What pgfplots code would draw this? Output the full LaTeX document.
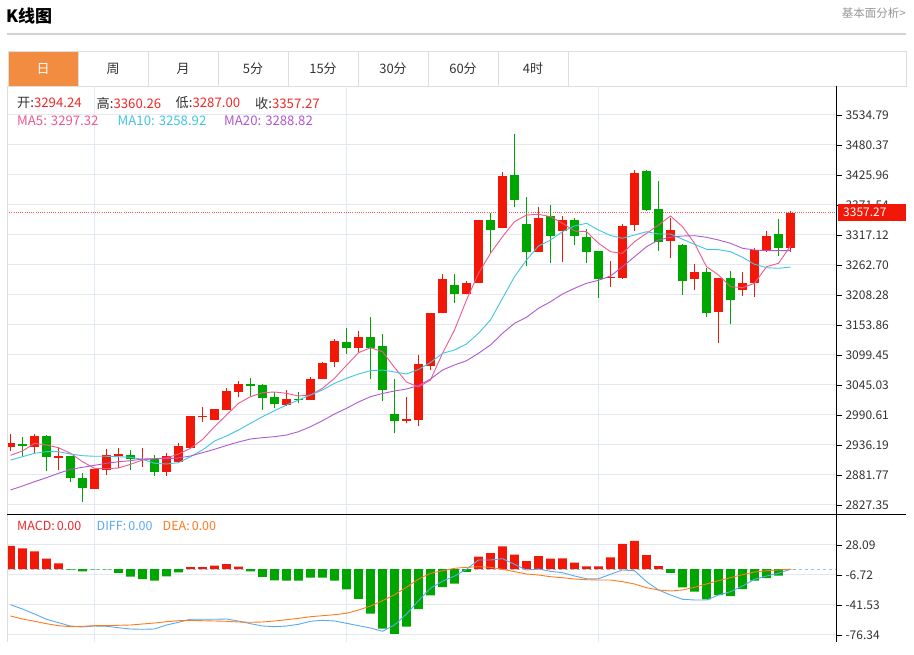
\documentclass[border=0pt]{standalone}
\usepackage{pgfplots}
\pgfplotsset{compat=1.18}
\usepackage{pgfplotstable}
\usepackage{fontspec}
\setmainfont{Noto Sans CJK SC}
\definecolor{cRed}{RGB}{242,24,8}
\definecolor{cGreen}{RGB}{0,166,0}
\definecolor{cMAa}{RGB}{238,90,142}
\definecolor{cMAb}{RGB}{64,198,224}
\definecolor{cMAc}{RGB}{178,88,206}
\definecolor{cDiff}{RGB}{90,170,240}
\definecolor{cDea}{RGB}{255,122,30}
\definecolor{cGrid}{RGB}{226,233,240}
\definecolor{cText}{RGB}{51,51,51}
\definecolor{cGray}{RGB}{150,150,150}
\definecolor{cLine}{RGB}{210,210,210}
\definecolor{cTab}{RGB}{221,221,221}
\definecolor{cOrange}{RGB}{242,140,64}
\definecolor{cVal}{RGB}{240,40,40}
\definecolor{cDot}{RGB}{240,90,90}
\definecolor{cZero}{RGB}{150,200,235}

\pgfplotstableread{
i o h l c
0 2932.55 2955.59 2925.30 2939.81
2 2933.10 2956.13 2921.67 2952.51
4 2913.14 2931.28 2890.83 2915.68
7 2856.37 2893.19 2856.37 2893.19
8 2890.83 2928.38 2881.76 2917.50
9 2916.23 2930.19 2893.92 2919.86
11 2909.52 2930.19 2896.82 2910.79
13 2887.21 2922.21 2879.95 2916.23
14 2905.89 2940.36 2905.89 2934.37
15 2931.28 2988.79 2931.28 2988.79
16 2986.43 3004.57 2978.45 2988.79
17 2981.53 3002.03 2981.53 3000.94
18 2999.67 3039.03 2999.67 3034.14
19 3032.32 3052.28 3022.71 3047.38
23 3009.28 3035.95 3006.93 3019.62
25 3017.81 3059.53 3017.81 3056.45
26 3055.36 3086.74 3055.36 3084.38
27 3086.20 3127.92 3077.12 3124.29
29 3112.68 3142.43 3105.42 3132.09
33 2980.26 3022.71 2975.54 2982.80
34 2981.53 3098.89 2970.65 3083.11
35 3080.03 3176.17 3072.23 3176.17
36 3175.08 3245.82 3175.08 3237.84
38 3209.54 3233.67 3209.54 3229.50
39 3229.50 3343.78 3229.50 3343.78
41 3330.35 3430.85 3329.26 3424.13
44 3286.82 3367.36 3286.82 3348.49
46 3324.91 3352.12 3268.68 3343.78
50 3238.57 3269.95 3223.33 3241.47
51 3239.66 3337.07 3237.84 3333.44
52 3334.71 3435.02 3324.37 3430.12
55 3306.77 3347.40 3274.85 3326.18
57 3237.84 3265.05 3216.80 3250.00
59 3177.98 3239.66 3120.66 3239.66
61 3216.80 3249.45 3207.00 3229.50
62 3229.50 3294.07 3205.19 3289.36
63 3289.90 3324.91 3286.27 3315.30
65 3294.24 3360.26 3287.00 3357.27
}\uptab

\pgfplotstableread{
i o h l c
1 2938.00 2950.15 2916.77 2934.91
3 2952.51 2954.32 2889.02 2913.87
5 2916.23 2916.23 2868.52 2875.78
6 2876.87 2884.85 2833.33 2857.64
10 2918.04 2927.11 2890.83 2910.24
12 2910.24 2918.04 2879.95 2887.75
20 3047.38 3057.72 3025.61 3043.21
21 3044.47 3047.38 2999.67 3021.98
22 3023.25 3031.78 3002.75 3010.55
24 3019.62 3031.78 3012.91 3017.81
28 3123.02 3148.96 3101.25 3112.68
30 3131.54 3168.37 3055.36 3112.68
31 3115.22 3136.99 3016.54 3035.95
32 2991.87 3055.54 2957.40 2980.26
37 3226.41 3245.82 3194.31 3209.54
40 3343.78 3357.56 3285.00 3325.64
42 3425.40 3499.78 3367.36 3380.06
43 3337.07 3386.04 3260.88 3286.82
45 3351.03 3370.99 3265.78 3315.30
47 3344.32 3348.49 3299.52 3315.84
48 3314.03 3327.45 3266.87 3286.82
49 3288.09 3288.09 3202.83 3236.75
53 3433.20 3435.02 3360.65 3362.46
54 3364.27 3415.07 3288.63 3304.41
56 3298.43 3300.24 3208.27 3233.67
58 3250.00 3257.80 3168.91 3176.17
60 3239.11 3251.81 3155.13 3199.75
64 3318.93 3346.13 3279.56 3292.99
}\downtab

\pgfplotstableread{
i ma5 ma10 ma20
0 2917.50 2908.97 2854.55
1 2925.30 2914.96 2861.81
2 2939.26 2921.13 2869.61
3 2936.18 2924.03 2876.87
4 2931.28 2924.03 2884.85
5 2921.13 2919.86 2892.10
6 2905.89 2916.77 2895.73
7 2893.92 2915.68 2899.36
8 2893.19 2915.68 2902.99
9 2894.46 2914.96 2905.89
10 2901.17 2913.87 2907.70
11 2908.97 2910.24 2910.79
12 2911.33 2902.99 2911.33
13 2912.60 2901.72 2911.33
14 2919.86 2904.07 2912.60
15 2930.19 2914.96 2916.23
16 2946.16 2927.11 2922.21
17 2969.38 2943.44 2928.38
18 2990.60 2952.51 2935.27
19 3011.82 2963.39 2941.62
20 3023.80 2975.54 2947.07
21 3031.05 2987.52 2949.42
22 3032.32 2998.40 2951.24
23 3029.96 3008.74 2954.32
24 3025.07 3017.81 2960.31
25 3026.88 3026.88 2969.38
26 3039.03 3035.95 2980.26
27 3057.17 3048.10 2992.41
28 3080.75 3057.17 3002.75
29 3103.61 3064.97 3014.18
30 3112.68 3070.96 3023.80
31 3105.42 3072.23 3029.60
32 3076.76 3068.60 3034.14
33 3050.46 3064.97 3037.76
34 3041.39 3073.14 3044.11
35 3054.09 3085.83 3055.90
36 3102.52 3102.52 3072.23
37 3144.79 3108.51 3081.30
38 3199.20 3119.39 3089.10
39 3247.64 3138.80 3102.52
40 3283.92 3162.93 3117.58
41 3314.03 3202.29 3138.80
42 3341.24 3241.47 3156.94
43 3353.39 3271.76 3167.82
44 3354.66 3297.16 3184.15
45 3350.31 3308.04 3196.12
46 3338.34 3323.10 3210.09
47 3324.37 3333.44 3220.43
48 3323.10 3338.34 3229.50
49 3302.06 3326.18 3234.94
50 3286.82 3316.20 3242.74
51 3283.92 3311.13 3259.61
52 3304.96 3317.11 3277.75
53 3320.19 3323.10 3295.89
54 3335.25 3318.93 3308.04
55 3351.58 3318.93 3312.94
56 3332.17 3309.31 3315.30
57 3302.06 3300.24 3315.84
58 3259.61 3291.17 3312.94
59 3244.55 3290.45 3308.04
60 3223.33 3286.82 3302.06
61 3221.52 3276.66 3293.00
62 3229.50 3263.97 3289.90
63 3259.61 3257.80 3288.63
64 3265.78 3256.71 3288.63
65 3297.32 3258.92 3288.82
}\matab

\pgfplotstableread{
i m diff dea
0 26.93 -41.18 -54.29
1 24.23 -46.17 -57.78
2 20.75 -51.97 -60.45
3 12.20 -58.12 -63.23
4 6.86 -62.07 -65.55
5 -0.50 -65.90 -66.71
6 -2.43 -67.06 -66.25
7 -0.30 -65.90 -65.55
8 -0.30 -66.25 -65.55
9 -4.40 -67.87 -65.09
10 -8.70 -69.38 -64.74
11 -11.37 -69.73 -63.58
12 -13.34 -69.38 -62.42
13 -8.24 -64.74 -60.91
14 -3.60 -61.60 -59.75
15 2.56 -58.12 -59.29
16 2.56 -58.12 -59.75
17 4.07 -58.12 -60.10
18 6.04 -57.78 -60.45
19 2.91 -60.10 -61.26
20 -2.43 -63.23 -61.60
21 -9.04 -65.90 -61.26
22 -12.88 -66.71 -60.10
23 -13.34 -65.90 -58.59
24 -13.34 -63.93 -56.96
25 -9.86 -60.45 -55.11
26 -9.86 -59.29 -53.95
27 -13.34 -60.10 -52.79
28 -23.33 -62.77 -51.17
29 -34.57 -65.55 -47.33
30 -51.63 -68.22 -42.69
31 -69.03 -72.05 -36.54
32 -75.18 -64.74 -29.58
33 -66.71 -51.97 -21.00
34 -46.18 -36.50 -11.36
35 -30.28 -22.00 -4.75
36 -20.65 -14.00 -1.74
37 -16.82 -8.00 1.03
38 -3.24 -0.11 2.19
39 14.51 10.68 2.91
40 18.80 10.68 2.19
41 26.57 12.19 -0.11
42 16.83 5.69 -2.89
43 9.52 -0.92 -5.56
44 15.32 0.24 -6.72
45 12.20 -2.43 -8.70
46 12.65 -4.05 -9.86
47 7.55 -7.88 -11.36
48 3.37 -11.02 -12.17
49 3.37 -11.02 -12.52
50 13.81 -5.92 -12.52
51 29.25 -0.92 -14.50
52 32.73 -1.74 -17.17
53 16.48 -14.50 -21.47
54 3.72 -24.13 -24.13
55 -4.40 -29.93 -25.29
56 -21.00 -34.92 -24.13
57 -26.11 -35.73 -21.00
58 -34.92 -35.73 -17.17
59 -29.93 -29.93 -13.34
60 -31.09 -26.11 -9.86
61 -22.97 -19.49 -6.38
62 -13.34 -11.71 -3.24
63 -10.21 -7.88 -1.74
64 -7.54 -4.75 -0.92
65 0.00 0.00 0.00
}\macdtab

\pgfplotsset{
  kbase/.style={
    scale only axis, anchor=south west,
    xmin=-0.2917, xmax=68.79,
    axis line style={draw=none},
    xtick={7,28,49}, xticklabels={}, xtick style={draw=none},
    xmajorgrids, ymajorgrids,
    grid style={cGrid, line width=1pt},
    ytick pos=right, yticklabel pos=right,
    tick align=outside, major tick length=6pt,
    ytick style={black, line width=0.8pt},
    yticklabel style={font=\fontsize{12}{14}\selectfont, text=cText, anchor=west},
    /pgf/number format/assume math mode=true,
  },
  wick/.style={only marks, mark=*, mark size=0pt, mark options={draw=none, fill=none},
    error bars/.cd, y dir=plus, y explicit, error mark=none,
    error bar style={line width=1pt, draw=#1}},
  body/.style={only marks, mark=*, mark size=0pt, mark options={draw=none, fill=none},
    error bars/.cd, y dir=plus, y explicit, error mark=none,
    error bar style={line width=8.6pt, draw=#1}},
}

\begin{document}
\begin{tikzpicture}[x=1pt,y=1pt]
\fill[white] (0,0) rectangle (914,642);
% header
\node[anchor=west, inner sep=0, font=\fontsize{17}{20}\selectfont\bfseries] at (6,626) {K线图};
\node[anchor=east, inner sep=0, font=\fontsize{11.5}{14}\selectfont, text=cGray] at (906,629) {基本面分析>};
\draw[cLine, line width=1.2pt] (7,608) -- (906,608);
% tabs
\fill[cOrange] (8,556) rectangle (78,591);
\draw[cTab, line width=0.8pt] (8,556) rectangle (906,591);
\foreach \xx in {78,148,...,568} {\draw[cTab, line width=0.8pt] (\xx,556) -- (\xx,591);}
\begin{scope}[every node/.style={font=\fontsize{13}{15}\selectfont, text=cText, inner sep=0}]
\node[text=white] at (43,573.5) {日};
\node at (113,573.5) {周};
\node at (183,573.5) {月};
\node at (253,573.5) {5分};
\node at (323,573.5) {15分};
\node at (393,573.5) {30分};
\node at (463,573.5) {60分};
\node at (533,573.5) {4时};
\end{scope}

% main candlestick axis
\begin{axis}[kbase, at={(7pt,127pt)}, width=829pt, height=429pt,
  ymin=2809.21, ymax=3587.39,
  ytick={3534.79,3480.37,3425.96,3371.54,3317.12,3262.70,3208.28,3153.86,3099.45,3045.03,2990.61,2936.19,2881.77,2827.35},
  yticklabels={3534.79,3480.37,3425.96,3371.54,3317.12,3262.70,3208.28,3153.86,3099.45,3045.03,2990.61,2936.19,2881.77,2827.35},
]
\addplot[cDot, dash pattern=on 1pt off 1.2pt, line width=1pt] coordinates {(-0.2917,3357.27) (68.79,3357.27)};
\addplot[wick=cRed] table[x=i, y=l, y error plus expr=\thisrow{h}-\thisrow{l}] \uptab;
\addplot[wick=cGreen] table[x=i, y=l, y error plus expr=\thisrow{h}-\thisrow{l}] \downtab;
\addplot[body=cRed] table[x=i, y=o, y error plus expr=\thisrow{c}-\thisrow{o}] \uptab;
\addplot[body=cGreen] table[x=i, y=c, y error plus expr=\thisrow{o}-\thisrow{c}] \downtab;
\addplot[cMAa, line width=0.9pt, mark=none] table[x=i, y=ma5] \matab;
\addplot[cMAb, line width=0.9pt, mark=none] table[x=i, y=ma10] \matab;
\addplot[cMAc, line width=0.9pt, mark=none] table[x=i, y=ma20] \matab;
\end{axis}

% MACD axis
\begin{axis}[kbase, at={(7pt,0pt)}, width=829pt, height=127pt,
  ymin=-84.46, ymax=62.90,
  ytick={28.09,-6.72,-41.53,-76.34},
  yticklabels={28.09,-6.72,-41.53,-76.34},
]
\addplot[cZero, dash pattern=on 3pt off 3pt, line width=0.8pt] coordinates {(-0.2917,0) (68.79,0)};
\addplot[ybar, bar width=8.6pt, bar shift=0pt, fill=cRed, draw=none, restrict y to domain=0:100] table[x=i, y=m] \macdtab;
\addplot[ybar, bar width=8.6pt, bar shift=0pt, fill=cGreen, draw=none, restrict y to domain=-100:0] table[x=i, y=m] \macdtab;
\addplot[cDiff, line width=0.9pt, mark=none] table[x=i, y=diff] \macdtab;
\addplot[cDea, line width=0.9pt, mark=none] table[x=i, y=dea] \macdtab;
\end{axis}

% frame lines
\draw[cTab, line width=1pt] (7,0) -- (7,556);
\draw[black, line width=1pt] (836,0) -- (836,556);
\draw[black, line width=1pt] (7,127) -- (906,127);

% current price box
\fill[cRed] (838,420.7) rectangle (906,438);
\node[anchor=west, inner sep=0, text=white, font=\fontsize{12}{14}\selectfont] at (843,429.3) {3357.27};

% legends
\begin{scope}[every node/.style={anchor=west, inner sep=0, font=\fontsize{13.2}{15}\selectfont}]
\node at (17,539) {\textcolor{cText}{开:}\textcolor{cVal}{3294.24}};
\node at (96.5,539) {\textcolor{cText}{高:}\textcolor{cVal}{3360.26}};
\node at (175.5,539) {\textcolor{cText}{低:}\textcolor{cVal}{3287.00}};
\node at (255,539) {\textcolor{cText}{收:}\textcolor{cVal}{3357.27}};
\node[text=cMAa] at (17,521) {MA5:\hspace{4pt}3297.32};
\node[text=cMAb] at (117.5,521) {MA10:\hspace{4pt}3258.92};
\node[text=cMAc] at (224,521) {MA20:\hspace{4pt}3288.82};
\end{scope}
\begin{scope}[every node/.style={anchor=west, inner sep=0, font=\fontsize{12.5}{15}\selectfont}]
\node[text=cVal] at (17,116) {MACD:\,0.00};
\node[text=cDiff] at (96.5,116) {DIFF:\,0.00};
\node[text=cDea] at (162.5,116) {DEA:\,0.00};
\end{scope}
\end{tikzpicture}
\end{document}
